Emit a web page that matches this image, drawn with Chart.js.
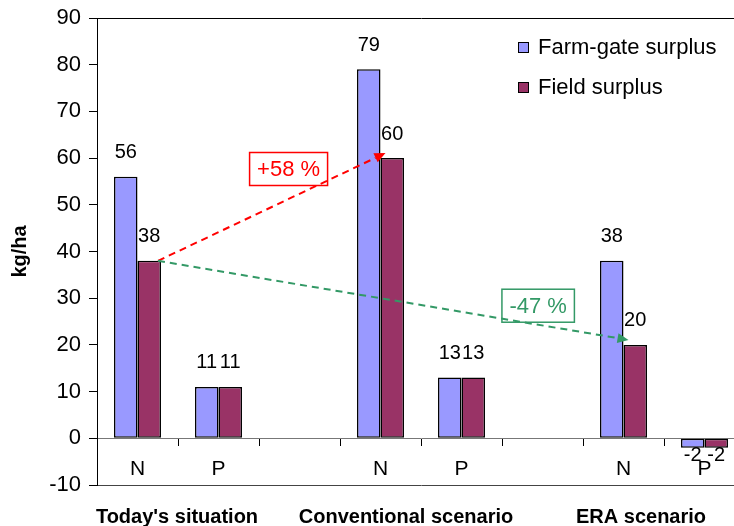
<!DOCTYPE html>
<html>
<head>
<meta charset="utf-8">
<script src="https://cdn.jsdelivr.net/npm/chart.js@4.4.1/dist/chart.umd.min.js"></script>
<style>
  html, body { margin: 0; padding: 0; background: #fff; overflow: hidden; }
  #wrap { position: absolute; left: 0; top: 0; width: 750px; height: 526px; }
</style>
</head>
<body>
<div id="wrap"><canvas id="chart" width="750" height="526"></canvas></div>
<script>
// Nutrient surpluses (kg/ha) per scenario, N and P; empty slots separate the scenarios
const categories = ['N', 'P', '', 'N', 'P', '', 'N', 'P'];
const farmGateSurplus = [56, 11, null, 79, 13, null, 38, -2];
const fieldSurplus = [38, 11, null, 60, 13, null, 20, -2];
const scenarios = ["Today's situation", 'Conventional scenario', 'ERA scenario'];
const seriesNames = ['Farm-gate surplus', 'Field surplus'];
const yMin = -10, yMax = 90, yStep = 10;

// Change in field N surplus relative to today's situation
const changeArrows = [
  { from: 0, to: 3, color: '#FF0000' },
  { from: 0, to: 6, color: '#339966' }
];

const FONT = '"Liberation Sans", Arial, Helvetica, sans-serif';

// Placement of annotations drawn outside the library's own elements
const layoutCfg = {
  scenarioX: [177, 406, 641],
  scenarioY: 517,
  legendX: 518, legendY: 47, legendGap: 40,
  arrowBox: [ { t: 0.574, dy: -30 }, { t: 0.808, dy: -19 } ]
};

const valueLabels = {
  id: 'valueLabels',
  afterDatasetsDraw(chart) {
    const ctx = chart.ctx;
    ctx.save();
    ctx.font = '20px ' + FONT;
    ctx.fillStyle = '#000';
    ctx.textAlign = 'center';
    ctx.textBaseline = 'middle';
    chart.data.datasets.forEach((ds, di) => {
      const meta = chart.getDatasetMeta(di);
      meta.data.forEach((el, i) => {
        const v = ds.data[i];
        if (v === null || v === undefined) return;
        const p = el.getProps(['x', 'y'], true);
        const y = v >= 0 ? p.y - 24 : p.y + 8;
        ctx.fillText(String(v), p.x, y);
      });
    });
    ctx.restore();
  }
};

const changeArrowsPlugin = {
  id: 'changeArrows',
  afterDatasetsDraw(chart) {
    const ctx = chart.ctx;
    const meta = chart.getDatasetMeta(1);
    changeArrows.forEach((a, k) => {
      const s = meta.data[a.from].getProps(['x', 'y', 'width'], true);
      const e = meta.data[a.to].getProps(['x', 'y', 'width'], true);
      const x0 = s.x + s.width / 2 - 3, y0 = s.y;
      const x1 = e.x - e.width / 2 + 5, y1 = e.y - 5;
      const ang = Math.atan2(y1 - y0, x1 - x0);
      const headLen = 11, headW = 5;
      const bx = x1 - headLen * Math.cos(ang), by = y1 - headLen * Math.sin(ang);

      // percentage label box
      const from = fieldSurplus[a.from], to = fieldSurplus[a.to];
      const pct = Math.round((to - from) / from * 100);
      const text = (pct > 0 ? '+' : '') + pct + ' %';
      const box = layoutCfg.arrowBox[k];
      const cx = x0 + (x1 - x0) * box.t, cy = y0 + (y1 - y0) * box.t + box.dy;
      ctx.save();
      ctx.font = '22px ' + FONT;
      const w = ctx.measureText(text).width + 15, h = 33;
      ctx.fillStyle = '#fff';
      ctx.fillRect(cx - w / 2, cy - h / 2, w, h);
      ctx.strokeStyle = a.color;
      ctx.lineWidth = 1.5;
      ctx.strokeRect(cx - w / 2, cy - h / 2, w, h);
      ctx.fillStyle = a.color;
      ctx.textAlign = 'center';
      ctx.textBaseline = 'middle';
      ctx.fillText(text, cx, cy + 1);

      // dashed arrow
      ctx.setLineDash([7, 5]);
      ctx.lineWidth = 2;
      ctx.beginPath();
      ctx.moveTo(x0, y0);
      ctx.lineTo(bx, by);
      ctx.stroke();
      ctx.setLineDash([]);
      ctx.beginPath();
      ctx.moveTo(x1, y1);
      ctx.lineTo(bx + headW * Math.sin(ang), by - headW * Math.cos(ang));
      ctx.lineTo(bx - headW * Math.sin(ang), by + headW * Math.cos(ang));
      ctx.closePath();
      ctx.fill();
      ctx.restore();
    });
  }
};

const sideLegend = {
  id: 'sideLegend',
  afterDraw(chart) {
    const ctx = chart.ctx;
    ctx.save();
    ctx.font = '22px ' + FONT;
    ctx.textBaseline = 'middle';
    ctx.textAlign = 'left';
    chart.data.datasets.forEach((ds, i) => {
      const y = layoutCfg.legendY + i * layoutCfg.legendGap;
      ctx.fillStyle = ds.backgroundColor;
      ctx.fillRect(layoutCfg.legendX + 0.5, y - 4.5, 10, 10);
      ctx.strokeStyle = '#000';
      ctx.lineWidth = 1;
      ctx.strokeRect(layoutCfg.legendX + 0.5, y - 4.5, 10, 10);
      ctx.fillStyle = '#000';
      ctx.fillText(ds.label, layoutCfg.legendX + 20, y + 1);
    });
    ctx.restore();
  }
};

const scenarioLabels = {
  id: 'scenarioLabels',
  afterDraw(chart) {
    const ctx = chart.ctx;
    ctx.save();
    ctx.font = 'bold 20px ' + FONT;
    ctx.fillStyle = '#000';
    ctx.textAlign = 'center';
    ctx.textBaseline = 'middle';
    scenarios.forEach((s, i) => ctx.fillText(s, layoutCfg.scenarioX[i], layoutCfg.scenarioY));
    ctx.restore();
  }
};

new Chart(document.getElementById('chart'), {
  type: 'bar',
  data: {
    labels: categories,
    datasets: [
      { label: seriesNames[0], data: farmGateSurplus, backgroundColor: '#9999FF',
        borderColor: '#000', borderWidth: 1.5, borderSkipped: false },
      { label: seriesNames[1], data: fieldSurplus, backgroundColor: '#993366',
        borderColor: '#000', borderWidth: 1.5, borderSkipped: false }
    ]
  },
  options: {
    responsive: false,
    maintainAspectRatio: false,
    devicePixelRatio: 1,
    animation: false,
    layout: { padding: { top: 18, bottom: 41, left: 0, right: 5 } },
    datasets: { bar: { categoryPercentage: 0.58, barPercentage: 1.0 } },
    plugins: { legend: { display: false }, tooltip: { enabled: false } },
    scales: {
      x: {
        type: 'category',
        position: { y: 0 },
        offset: true,
        grid: { offset: true, drawOnChartArea: false, drawTicks: true, tickLength: 7, tickColor: '#000' },
        border: { display: true, color: '#777', width: 1 },
        ticks: { font: { size: 21, family: FONT }, color: '#000', padding: 11, maxRotation: 0, autoSkip: false },
        afterFit(s) { s.paddingLeft = 0; s.paddingRight = 0; }
      },
      y: {
        min: yMin, max: yMax,
        ticks: { stepSize: yStep, font: { size: 22, family: FONT }, color: '#000', padding: 8 },
        grid: {
          drawOnChartArea: true,
          drawTicks: true,
          tickLength: 8,
          tickColor: '#000',
          color: c => {
            if (!c.tick) return 'rgba(0,0,0,0)';
            if (c.tick.value === yMax) return '#000';
            if (c.tick.value === yMin) return '#444';
            return 'rgba(0,0,0,0)';
          }
        },
        border: { display: true, color: '#000', width: 1 },
        title: { display: true, text: 'kg/ha', color: '#000',
                 font: { size: 20, weight: 'bold', family: FONT }, padding: { top: 8, bottom: 0 } },
        afterFit(s) { s.width = 97; s.paddingTop = 0; s.paddingBottom = 0; }
      }
    }
  },
  plugins: [valueLabels, changeArrowsPlugin, sideLegend, scenarioLabels]
});
</script>
</body>
</html>
